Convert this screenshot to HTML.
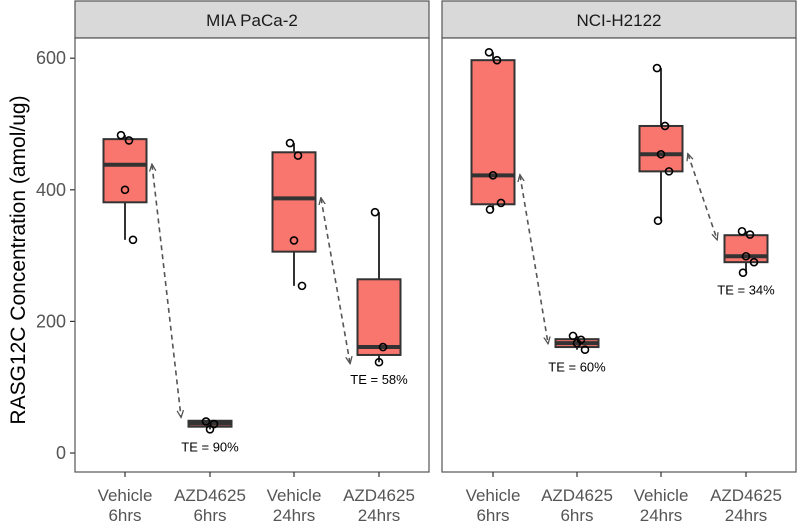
<!DOCTYPE html>
<html><head><meta charset="utf-8"><style>
body{margin:0;background:#fff;}
svg{display:block;font-family:"Liberation Sans",sans-serif;}
</style></head><body>
<svg id="chart" width="797" height="522"></svg>
<script>
const panels = ["MIA PaCa-2","NCI-H2122"];
const categories = ["Vehicle\n6hrs","AZD4625\n6hrs","Vehicle\n24hrs","AZD4625\n24hrs"];
const yTicks = [0,200,400,600];
const q1 = [[381,40,306,149],[378,161,428,290]];
const med = [[438,45,387,161],[422,167,454,299]];
const q3 = [[477,49,457,264],[597,173,497,331]];
const lo = [[324,36,254,138],[370,157,353,274]];
const hi = [[483,48,471,366],[609,178,585,337]];
const pts = [
 [[483,475,400,324],[48,44,36],[471,452,323,254],[366,161,138]],
 [[609,597,422,380,370],[178,172,167,157],[585,497,454,428,353],[337,332,299,290,274]]
];
const teLabels = [["TE = 90%","TE = 58%"],["TE = 60%","TE = 34%"]];

const NS="http://www.w3.org/2000/svg";
const svg=document.getElementById('chart');
function mk(t,a,p){const e=document.createElementNS(NS,t);for(const k in a)e.setAttribute(k,a[k]);(p||svg).appendChild(e);return e;}
const y=v=>453-v*0.658;
const panelX=[[75,429],[442,796]];
const catX=[[125,210,294,379],[493,577,661,746]];
const jit=[-4,4,0,8,-3];
const defs=mk('defs',{});
const mkr=mk('marker',{id:'ah',viewBox:'0 0 10 10',refX:'8',refY:'5',markerWidth:'5',markerHeight:'5',orient:'auto-start-reverse'},defs);
mk('path',{d:'M0,1 L9,5 L0,9',fill:'none',stroke:'#555','stroke-width':'1.6'},mkr);

let t=mk('text',{x:0,y:0,transform:'translate(25,260) rotate(-90)','text-anchor':'middle','font-size':'21',fill:'#000'});
t.textContent="RASG12C Concentration (amol/ug)";

yTicks.forEach(v=>{
 const l=mk('line',{x1:70,x2:75,y1:y(v),y2:y(v),stroke:'#333','stroke-width':1.2});
 
 const tx=mk('text',{x:66,y:y(v)+6,'text-anchor':'end','font-size':'18',fill:'#555'});
 tx.textContent=v;
 
});

panels.forEach((pn,pi)=>{
 const [x0,x1]=panelX[pi];
 const s=mk('rect',{x:x0,y:1,width:x1-x0,height:37,fill:'#d9d9d9',stroke:'#555','stroke-width':1.2});
 
 const st=mk('text',{x:(x0+x1)/2,y:26,'text-anchor':'middle','font-size':'17',fill:'#1a1a1a'});
 st.textContent=pn;
 
 const pr=mk('rect',{x:x0,y:38,width:x1-x0,height:434,fill:'#fff',stroke:'#555','stroke-width':1.2});
 
 categories.forEach((c,ci)=>{
  const cx=catX[pi][ci];
  const tk=mk('line',{x1:cx,x2:cx,y1:472,y2:477,stroke:'#333','stroke-width':1.2});
  
  c.split('\n').forEach((p,k)=>{
   const lt=mk('text',{x:cx,y:501+k*20,'text-anchor':'middle','font-size':'17',fill:'#555'});
   lt.textContent=p;
   
  });
  const w=mk('line',{x1:cx,x2:cx,y1:y(hi[pi][ci]),y2:y(lo[pi][ci]),stroke:'#333','stroke-width':2});
  
  const b=mk('rect',{x:cx-21.5,y:y(q3[pi][ci]),width:43,height:y(q1[pi][ci])-y(q3[pi][ci]),fill:'#f8766d',stroke:'#333','stroke-width':2});
  
  const m=mk('line',{x1:cx-21.5,x2:cx+21.5,y1:y(med[pi][ci]),y2:y(med[pi][ci]),stroke:'#333','stroke-width':4});
  
  pts[pi][ci].forEach((v,k)=>{
   const c2=mk('circle',{cx:cx+jit[k%jit.length],cy:y(v),r:3.5,fill:'none',stroke:'#000','stroke-width':1.6});
   
  });
 });
 [0,2].forEach((ci,ai)=>{
  const xa=catX[pi][ci]+27, ya=y(med[pi][ci]);
  const xb=catX[pi][ci+1]-29;
  const yb2=pi===0&&ci===2?y(q1[pi][ci+1])+8:(pi===0?y(q3[pi][ci+1])-4:y(q3[pi][ci+1])+4);
  const a=mk('line',{x1:xa,y1:ya,x2:xb,y2:yb2,stroke:'#555','stroke-width':1.6,'stroke-dasharray':'5,4','marker-start':'url(#ah)','marker-end':'url(#ah)'});
  
  const te=mk('text',{x:catX[pi][ci+1],y:y(lo[pi][ci+1])+22,'text-anchor':'middle','font-size':'13',fill:'#000'});
  te.textContent=teLabels[pi][ai];
  
 });
});
</script>
</body></html>
